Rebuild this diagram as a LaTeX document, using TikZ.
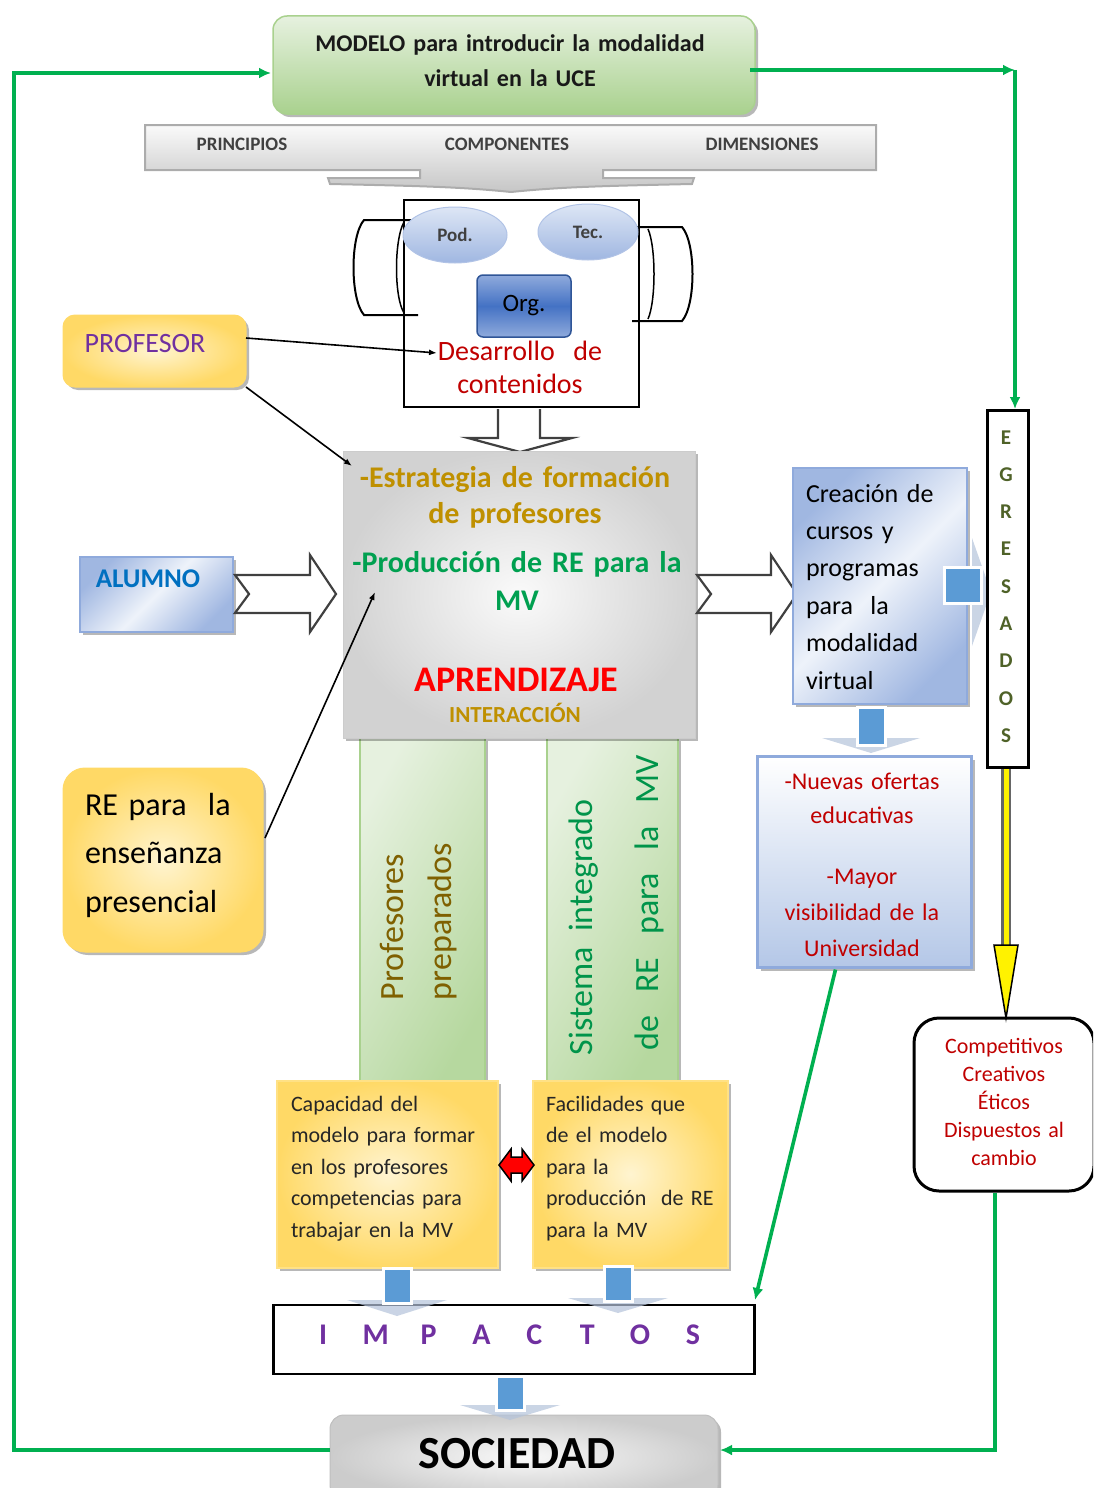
\documentclass[tikz,border=0pt]{standalone}
\usepackage{fontspec}
\setmainfont{Carlito}
\usetikzlibrary{arrows.meta,shadows,shapes.geometric,calc}
\definecolor{grn}{HTML}{00B050}
\definecolor{glight}{HTML}{E6F1DF}
\definecolor{gmid}{HTML}{A9D18E}
\definecolor{ylight}{HTML}{FFF4D0}
\definecolor{ymid}{HTML}{FFD966}
\definecolor{blight}{HTML}{DDE6F5}
\definecolor{bmid}{HTML}{8FAADC}
\definecolor{bdark}{HTML}{4472C4}
\definecolor{bvdark}{HTML}{2F5597}
\definecolor{dred}{HTML}{C00000}
\definecolor{purp}{HTML}{7030A0}
\definecolor{gold}{HTML}{BF9000}
\definecolor{brn}{HTML}{7F6000}
\definecolor{vgreen}{HTML}{00A050}
\definecolor{sgreen}{HTML}{00944A}
\definecolor{ablue}{HTML}{5B9BD5}
\definecolor{ahead}{HTML}{B4C3DA}
\definecolor{egrc}{HTML}{4F6228}
\definecolor{alblue}{HTML}{0070C0}
\definecolor{nblue}{HTML}{B4C7E7}
\newcommand\fs[2]{\fontsize{#1}{#2}\selectfont}
\begin{document}
\begin{tikzpicture}[x=1pt,y=-1pt,
  shad/.style={drop shadow={shadow xshift=3pt,shadow yshift=-3pt,fill=black,opacity=0.28}},
  box/.style={inner sep=0pt, outer sep=0pt},
  lbl/.style={inner sep=0pt, outer sep=0pt, anchor=base},
  thinarr/.style={line width=1.6pt, -{Latex[length=8pt,width=6pt]}},
  grnarr/.style={draw=grn, line width=3.6pt, -{Latex[length=12pt,width=11pt]}},
  hollow/.style={draw=black!75, line width=2.2pt, fill=white, line join=miter},
  shaftblue/.style={draw=white, line width=3pt, fill=ablue},
  headblue/.style={fill=ahead, opacity=0.7},
  bluebox/.style={draw=bmid, line width=2pt, left color=bmid!85, right color=bmid!85, middle color=blight!50!white, shading angle=45},
]
\useasboundingbox (0,0) rectangle (1093,1488);
\clip (0,0) rectangle (1093,1488);

% ---------- MODELO ----------
\node[box, shad, rounded corners=14pt, draw=gmid, line width=1.5pt, top color=glight, bottom color=gmid, minimum width=482, minimum height=98] (modelo) at (514,65) {};
\node[lbl, text width=470, align=center, font=\fs{24}{35}\bfseries, text=black!90] (modeloT) at (510,52) {MODELO para introducir la modalidad\\virtual en la UCE};

% ---------- banner ----------
\path[draw=gray!65, line width=2pt, top color=gray!4, bottom color=gray!45] (145,125) -- (876,125) -- (876,170) -- (603,170) -- (603,178) -- (694,178) -- (692,184) .. controls (600,186) and (560,187) .. (511,192) .. controls (462,187) and (422,186) .. (330,184) -- (328,178) -- (420,178) -- (420,170) -- (145,170) -- cycle;
\node[lbl, font=\fs{19}{19}\bfseries, text=black!75] (princ) at (242,150) {PRINCIPIOS};
\node[lbl, font=\fs{19}{19}\bfseries, text=black!75] (compo) at (507,150) {COMPONENTES};
\node[lbl, font=\fs{19}{19}\bfseries, text=black!75] (dimen) at (762,150) {DIMENSIONES};

% ---------- central box ----------
\node[box, draw, line width=2.5pt, fill=white, minimum width=235, minimum height=207] (cbox) at (521.5,303.5) {};
\draw[line width=2pt] (418,220) -- (364,220) .. controls (350,236) and (350,299) .. (364,315) -- (418,315);
\draw[line width=1.5pt] (404,222) .. controls (394,240) and (394,297) .. (404,313);
\draw[line width=2pt] (632,227) -- (682,227) .. controls (696,243) and (696,305) .. (682,321) -- (632,321);
\draw[line width=1.5pt] (648,229) .. controls (656,247) and (656,301) .. (648,319);
\node[box, ellipse, draw=bmid!70, line width=1pt, top color=blight, bottom color=bmid!85, minimum width=104, minimum height=56, font=\fs{19}{19}\bfseries, text=black!75] (pod) at (455,235) {Pod.};
\node[box, ellipse, draw=bmid!70, line width=1pt, top color=blight, bottom color=bmid!85, minimum width=100, minimum height=56, font=\fs{19}{19}\bfseries, text=black!75] (tec) at (588,232) {Tec.};
\node[box, rounded corners=6pt, draw=bvdark, line width=1.5pt, top color=bmid, bottom color=bmid, middle color=bdark, minimum width=94, minimum height=62, font=\fs{25}{25}] (org) at (524,306) {Org.};
\node[lbl, text width=200, align=center, font=\fs{28}{33}, text=dred] (des) at (520,360) {Desarrollo\ \ de\\contenidos};

\path[hollow] (498,409) -- (498,438) -- (468,438) -- (520,452) -- (572,438) -- (540,438) -- (540,409);

% ---------- green columns ----------
\node[box, shad, draw=gmid, line width=2pt, left color=glight, right color=gmid!85, shading angle=60, minimum width=125, minimum height=344] (colL) at (422.5,910) {};
\node[box, shad, draw=gmid, line width=2pt, left color=glight, right color=gmid!85, shading angle=60, minimum width=131, minimum height=344] (colR) at (612.5,910) {};
\node[lbl, anchor=base west, rotate=90, font=\fs{34}{34}, text=brn] (profT2) at (403,1000) {Profesores};
\node[lbl, anchor=base west, rotate=90, font=\fs{34}{34}, text=brn] (prepT) at (451,1000) {preparados};
\node[lbl, anchor=base west, rotate=90, font=\fs{34}{34}, text=sgreen] (sistT) at (592,1055) {Sistema\ \ integrado};
\node[lbl, anchor=base west, rotate=90, font=\fs{34}{34}, text=sgreen] (deT) at (658,1050) {\hbox to 295pt{de\hfil RE\hfil para\hfil la\hfil MV}};

% ---------- main box ----------
\node[box, shad, draw=gray!40, line width=1pt, inner color=gray!4, outer color=gray!35, minimum width=352, minimum height=287] (main) at (519,594.5) {};
\node[lbl, text width=345, align=center, font=\fs{30}{36}\bfseries, text=gold] (estr) at (515,487) {-Estrategia de formación\\de profesores};
\node[lbl, text width=345, align=center, font=\fs{30}{38}\bfseries, text=vgreen] (prod) at (517,572) {-Producción de RE para la\\MV};
\node[lbl, font=\fs{36}{36}\bfseries, text=red] (apr) at (516,691) {APRENDIZAJE};
\node[lbl, font=\fs{23}{23}\bfseries, text=gold] (inter) at (515,722) {INTERACCIÓN};

% ---------- PROFESOR ----------
\node[box, shad, rounded corners=12pt, draw=ymid, line width=1pt, inner color=ylight, outer color=ymid, minimum width=183, minimum height=72] (prof) at (154.5,351) {};
\node[lbl, font=\fs{28}{28}, text=purp] (profT) at (145,352) {PROFESOR};
\coordinate (desin) at (437,353);
\coordinate (mainin1) at (352,466);
\draw[thinarr] ($(prof.east)+(0,-13)$) -- (desin);
\draw[thinarr] (prof.south east) -- (mainin1);

% ---------- ALUMNO ----------
\node[box, shad, bluebox, minimum width=153, minimum height=75] (alumno) at (156.5,594.5) {};
\node[lbl, font=\fs{27}{27}\bfseries, text=alblue] (alumnoT) at (148,587) {ALUMNO};
\path[hollow] (235,575) -- (310,575) -- (310,555) -- (336,594) -- (310,632) -- (310,613) -- (235,613) -- (249,594) -- cycle;

% ---------- RE presencial ----------
\node[box, shad, rounded corners=22pt, draw=ymid, line width=1pt, inner color=ylight, outer color=ymid, minimum width=200, minimum height=184] (rebox) at (163,860) {};
\node[lbl, anchor=base west, text width=180, align=left, font=\fs{32}{48.5}] (reT) at (85,815) {RE para\ \ la\\enseñanza\\presencial};
\coordinate (mainin2) at (375,592);
\draw[thinarr] ($(rebox.east)+(2,-22)$) -- (mainin2);

% ---------- Creacion ----------
\path[hollow] (697,575) -- (771,575) -- (771,555) -- (797,594) -- (771,632) -- (771,613) -- (697,613) -- (711,594) -- cycle;
\node[box, shad, bluebox, minimum width=174, minimum height=236] (crea) at (880,586) {};
\node[lbl, anchor=base west, text width=160, align=left, font=\fs{26}{37.4}] (creaT) at (806,502) {Creación de\\cursos y\\programas\\para\ \ la\\modalidad\\virtual};
\fill[headblue] (972,538) -- (991,592) -- (972,646) -- cycle;
\path[shaftblue] (944,567) rectangle (981,603);
\fill[headblue] (822,738) -- (920,738) -- (871,753) -- cycle;
\path[shaftblue] (857,707) rectangle (885,745);

% ---------- Nuevas ----------
\node[box, shad, draw=bmid, line width=2.5pt, top color=white, bottom color=nblue, minimum width=214, minimum height=211] (nuevas) at (864.5,862) {};
\node[lbl, text width=210, align=center, font=\fs{24}{34}, text=dred] (nuevasT1) at (862,789) {-Nuevas ofertas\\educativas};
\node[lbl, text width=210, align=center, font=\fs{24}{36}, text=dred] (nuevasT2) at (862,884) {-Mayor\\visibilidad de la\\Universidad};

% ---------- EGRESADOS ----------
\node[box, draw, line width=3pt, fill=white, minimum width=41, minimum height=357] (egr) at (1007.5,588.5) {};
\foreach \l [count=\i] in {E,G,R,E,S,A,D,O,S}
  \node[lbl, font=\fs{21}{21}\bfseries, text=egrc] (egrL\i) at (1006,{444+37.3*(\i-1)}) {\l};
\coordinate (tr) at (1015,70);
\draw[grnarr] ($(modelo.east)+(-5,5)$) -- (tr);
\draw[grnarr] (tr) -- ($(egr.north)+(7.5,-1)$);

% ---------- Competitivos ----------
\node[box, draw, line width=3pt, fill=white, rounded corners=25pt, minimum width=180, minimum height=173] (compet) at (1004,1104.5) {};
\node[lbl, text width=175, align=center, font=\fs{22}{28.2}, text=dred] (competT) at (1004,1053) {Competitivos\\Creativos\\Éticos\\Dispuestos al\\cambio};
\draw[black!60, line width=10pt] ($(egr.south)+(-1.5,2)$) -- (1006,948);
\draw[yellow, line width=5pt] ($(egr.south)+(-1.5,2)$) -- (1006,948);
\path[draw=black, line width=1.5pt, fill=yellow] (994,945) -- (1018,945) -- ($(compet.north)+(2,0)$) -- cycle;

% ---------- Capacidad / Facilidades ----------
\node[box, shad, draw=ymid!80, line width=2pt, inner color=ylight, outer color=ymid, minimum width=221, minimum height=187] (capac) at (387.5,1174) {};
\node[lbl, anchor=base west, text width=215, align=left, font=\fs{22}{31.5}, text=black!85] (capacT) at (291,1111) {Capacidad del\\modelo para formar\\en los profesores\\competencias para\\trabajar en la MV};
\node[box, shad, draw=ymid!80, line width=2pt, inner color=ylight, outer color=ymid, minimum width=195, minimum height=187] (facil) at (630.5,1174) {};
\node[lbl, anchor=base west, text width=185, align=left, font=\fs{22}{31.5}, text=black!85] (facilT) at (546,1111) {Facilidades que\\de el modelo\\para la\\producción\ \ de RE\\para la MV};
\path[draw=black, line width=1.5pt, fill=red] (499,1165) -- (511,1149) -- (511,1157) -- (522,1157) -- (522,1149) -- (534,1165) -- (522,1181) -- (522,1173) -- (511,1173) -- (511,1181) -- cycle;

% ---------- IMPACTOS ----------
\node[box, draw, line width=2.5pt, fill=white, minimum width=481, minimum height=69] (imp) at (514,1339.5) {};
\foreach \l [count=\i] in {I,M,P,A,C,T,O,S}
  \node[lbl, font=\fs{30}{30}\bfseries, text=purp] (impL\i) at ({323+52.85*(\i-1)},1344) {\l};
\fill[headblue] (347,1300) -- (447,1300) -- (397,1316) -- cycle;
\path[shaftblue] (383,1268) rectangle (411,1303);
\fill[headblue] (568,1298) -- (668,1298) -- (618,1313) -- cycle;
\path[shaftblue] (604,1266) rectangle (632,1301);
\coordinate (impin) at (755,1300);
\draw[grnarr] ($(nuevas.south)+(-29,2)$) -- (impin);

% ---------- SOCIEDAD ----------
\node[box, shad, rounded corners=14pt, draw=gray!50, line width=1pt, inner color=gray!5, outer color=gray!40, minimum width=388, minimum height=84] (soc) at (524,1457) {};
\node[lbl, font=\fs{46}{46}\bfseries] (socT) at (517,1468) {SOCIEDAD};
\fill[headblue] (460,1405) -- (560,1405) -- (510,1420) -- cycle;
\path[shaftblue] (496,1376) rectangle (524,1410);

% ---------- loops ----------
\coordinate (ll) at (14,73);
\draw[grnarr] ($(soc.west)+(0,-7)$) -| (ll) -- ($(modelo.west)+(-2,8)$);
\draw[grnarr] ($(compet.south)+(-9,2)$) |- ($(soc.east)+(2,-7)$);
\end{tikzpicture}
\end{document}
